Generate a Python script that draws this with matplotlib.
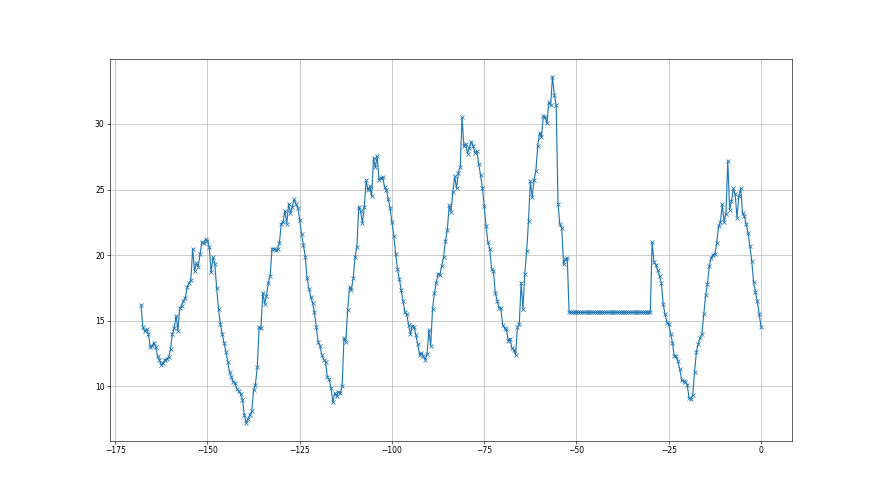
import numpy as np
import matplotlib
matplotlib.use("Agg")
import matplotlib.pyplot as plt

# half-hourly readings, last 168 hours (rows of 5 hours each)
values = [
    16.2, 14.5, 14.2, 14.35, 14.0, 13.0, 13.1, 13.35, 13.0, 12.3,      # -168
    12.0, 11.65, 11.8, 12.05, 12.1, 12.25, 12.85, 14.0, 14.45, 15.4,   # -163
    14.25, 15.95, 16.15, 16.5, 16.75, 17.55, 17.9, 18.1, 20.5, 18.8,   # -158
    19.4, 19.1, 20.1, 21.0, 20.9, 21.2, 21.1, 20.6, 18.7, 19.85,       # -153
    19.35, 17.5, 15.9, 14.75, 14.0, 13.35, 12.65, 11.9, 11.1, 10.7,    # -148
    10.35, 10.25, 9.8, 9.65, 9.4, 9.0, 7.8, 7.2, 7.55, 7.85,           # -143
    8.1, 9.7, 10.15, 11.45, 14.5, 14.45, 17.15, 16.3, 16.9, 17.9,      # -138
    18.45, 20.5, 20.5, 20.4, 20.5, 20.9, 22.4, 22.55, 23.4, 22.4,      # -133
    23.9, 23.2, 23.7, 24.25, 23.9, 23.6, 22.7, 21.6, 20.8, 19.9,       # -128
    18.25, 17.45, 16.85, 16.35, 15.65, 14.55, 13.4, 13.1, 12.4, 12.05, # -123
    11.9, 10.7, 10.55, 9.85, 8.8, 9.5, 9.25, 9.6, 9.5, 10.0,           # -118
    13.7, 13.4, 15.8, 17.55, 17.35, 18.25, 19.85, 20.65, 23.7, 23.35,  # -113
    22.45, 23.7, 25.7, 24.95, 25.25, 24.5, 27.4, 26.7, 27.55, 25.75,   # -108
    25.9, 25.95, 25.2, 25.0, 24.25, 23.6, 22.5, 21.5, 20.1, 18.95,     # -103
    18.2, 17.35, 16.5, 15.65, 15.5, 14.7, 14.0, 14.6, 14.55, 13.9,     # -98
    13.2, 12.4, 12.55, 12.3, 12.05, 12.45, 14.3, 13.1, 15.9, 17.1,     # -93
    17.9, 18.6, 18.5, 19.2, 19.9, 21.1, 21.9, 23.8, 23.3, 24.85,       # -88
    26.0, 25.1, 26.3, 26.7, 30.5, 28.3, 28.5, 27.75, 28.2, 28.65,      # -83
    28.3, 27.8, 27.95, 26.95, 26.1, 25.15, 23.75, 22.2, 21.0, 20.5,    # -78
    18.95, 18.8, 17.15, 16.55, 16.0, 15.95, 14.7, 14.45, 14.35, 13.5,  # -73
    13.65, 12.95, 12.8, 12.4, 14.5, 14.75, 17.9, 15.9, 18.6, 20.3,     # -68
    22.6, 25.65, 24.4, 25.7, 26.45, 28.3, 29.35, 29.0, 30.6, 30.55,    # -63
    30.05, 31.65, 31.45, 33.6, 32.2, 31.45, 23.9, 22.35, 22.1, 19.3,   # -58
    19.7, 19.8, 15.65, 15.65, 15.65, 15.65, 15.65, 15.65, 15.65, 15.65,  # -53
    15.65, 15.65, 15.65, 15.65, 15.65, 15.65, 15.65, 15.65, 15.65, 15.65,  # -48
    15.65, 15.65, 15.65, 15.65, 15.65, 15.65, 15.65, 15.65, 15.65, 15.65,  # -43
    15.65, 15.65, 15.65, 15.65, 15.65, 15.65, 15.65, 15.65, 15.65, 15.65,  # -38
    15.65, 15.65, 15.65, 15.65, 15.65, 15.65, 15.65, 21.0, 19.47, 19.29,   # -33
    18.88, 18.4, 17.86, 16.28, 15.51, 14.87, 14.75, 14.03, 13.34, 12.32,   # -28
    12.32, 11.94, 11.3, 10.46, 10.41, 10.35, 10.15, 9.13, 9.08, 9.33,      # -23
    11.12, 12.65, 13.26, 13.72, 14.03, 15.51, 16.99, 17.81, 19.21, 19.8,   # -18
    20.05, 20.1, 20.92, 22.2, 22.53, 23.88, 22.53, 23.12, 27.2, 23.47,     # -13
    24.13, 25.09, 24.65, 22.86, 24.5, 25.09, 23.22, 22.96, 22.35, 21.69,   # -8
    20.67, 19.54, 17.93, 17.17, 16.48, 15.56, 14.54,                       # -3
]

hours = np.linspace(-168, 0, len(values))

fig = plt.figure(figsize=(16, 9), dpi=55)
plt.plot(hours, values, marker='x')
plt.grid(True)

plt.savefig("out.png")
